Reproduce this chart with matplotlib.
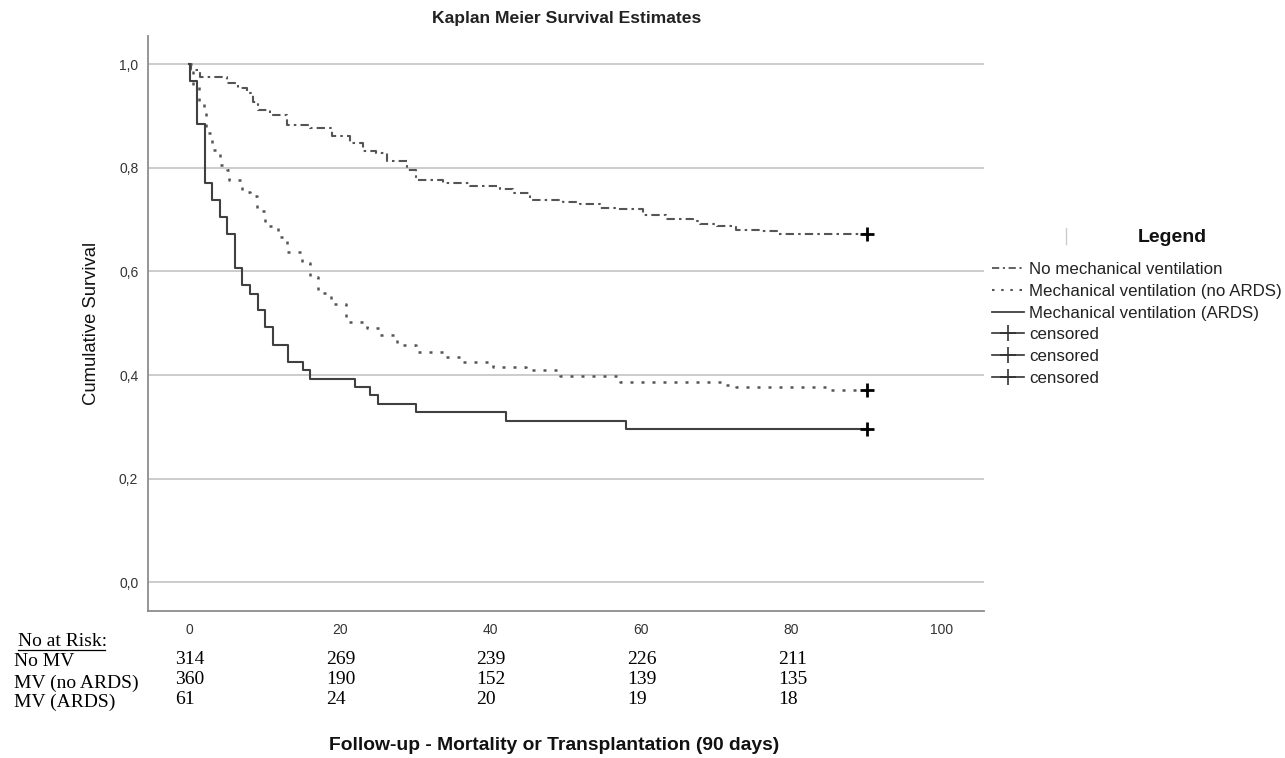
import numpy as np
import matplotlib
matplotlib.use("Agg")
import matplotlib.pyplot as plt
from matplotlib.lines import Line2D
from matplotlib.transforms import blended_transform_factory

plt.rcParams['font.family'] = ['Liberation Sans', 'DejaVu Sans']

# Kaplan-Meier curves (days, survival)
t_nomv = [0, 0.3, 1.5, 5.0, 6.5, 7.7, 8.5, 9.2, 10.8, 13.0, 16.1, 19.0, 21.4, 23.1,
          24.9, 26.3, 28.9, 30.2, 33.8, 37.3, 41.3, 43.0, 45.3, 49.7, 51.9, 54.6,
          57.0, 60.3, 63.4, 67.0, 67.9, 70.1, 72.7, 75.8, 78.1, 90]
s_nomv = [1.0, 0.988, 0.975, 0.964, 0.954, 0.944, 0.928, 0.912, 0.903, 0.883, 0.877,
          0.862, 0.848, 0.832, 0.828, 0.813, 0.796, 0.777, 0.770, 0.765, 0.759, 0.751,
          0.738, 0.735, 0.730, 0.722, 0.720, 0.709, 0.701, 0.698, 0.691, 0.687, 0.680,
          0.678, 0.672, 0.672]

t_mv = [0, 0.5, 1.3, 2.0, 2.3, 3.0, 4.1, 5.1, 5.3, 7.0, 8.1, 9.0, 10.1, 11.8, 13.0,
        15.0, 16.1, 17.1, 18.9, 20.9, 23.6, 25.4, 27.6, 30.2, 33.8, 36.4, 40.4, 44.8,
        49.3, 57.2, 70.9, 72.7, 84.7, 90]
s_mv = [1.0, 0.96, 0.928, 0.912, 0.868, 0.835, 0.806, 0.796, 0.777, 0.754, 0.745,
        0.716, 0.687, 0.667, 0.638, 0.616, 0.590, 0.558, 0.538, 0.503, 0.491, 0.477,
        0.458, 0.445, 0.435, 0.426, 0.416, 0.410, 0.398, 0.386, 0.381, 0.377, 0.371,
        0.371]

t_ards = [0, 0.1, 1.1, 2.1, 3.1, 4.1, 5.1, 6.1, 7.1, 8.1, 9.1, 10.1, 11.1, 13.1, 15.1,
          16.1, 22.0, 24.0, 25.1, 30.1, 42.1, 58.1, 90]
s_ards = [1.0, 0.967, 0.885, 0.770, 0.738, 0.705, 0.672, 0.607, 0.574, 0.557, 0.525,
          0.492, 0.459, 0.426, 0.410, 0.393, 0.377, 0.361, 0.344, 0.328, 0.311, 0.295,
          0.295]

labels = ["No mechanical ventilation", "Mechanical ventilation (no ARDS)",
          "Mechanical ventilation (ARDS)"]

# number at risk table
risk_days = [0, 20, 40, 60, 80]
risk_groups = ["No MV", "MV (no ARDS)", "MV (ARDS)"]
risk_nomv = [314, 269, 239, 226, 211]
risk_mv = [360, 190, 152, 139, 135]
risk_ards = [61, 24, 20, 19, 18]

W, H = 1285, 758
fig = plt.figure(figsize=(W / 100, H / 100), dpi=100)
ax = fig.add_axes([148 / W, 1 - 611 / H, (984 - 148) / W, (611 - 36) / H])

line_col = '#555555'
ax.plot(t_nomv, s_nomv, drawstyle='steps-post', color=line_col, lw=1.5,
        linestyle=(0, (4, 2, 1.2, 2)))
ax.plot(t_mv, s_mv, drawstyle='steps-post', color=line_col, lw=1.8,
        linestyle=(0, (1.2, 3.2)))
ax.plot(t_ards, s_ards, drawstyle='steps-post', color='#404040', lw=1.5)

# censor marks at end of follow-up
for t, s in [(t_nomv, s_nomv), (t_mv, s_mv), (t_ards, s_ards)]:
    ax.plot(t[-1], s[-1], marker='+', color='black', markersize=10, mew=2)

ax.set_xlim(-5.45, 105.6)
ax.set_ylim(-0.0554, 1.0546)
ax.set_yticks([0, 0.2, 0.4, 0.6, 0.8, 1.0])
ax.set_yticklabels(['0,0', '0,2', '0,4', '0,6', '0,8', '1,0'])
ax.set_xticks([0, 20, 40, 60, 80, 100])
ax.tick_params(length=0, labelsize=10, labelcolor='#333333')
ax.tick_params(axis='x', pad=9)
ax.tick_params(axis='y', pad=7)
ax.grid(axis='y', color='#c8c8c8', lw=1.3)
ax.set_axisbelow(True)
for side in ['top', 'right']:
    ax.spines[side].set_visible(False)
for side in ['left', 'bottom']:
    ax.spines[side].set_color('#8c8c8c')
    ax.spines[side].set_linewidth(1.3)

fig.text(567 / W, 1 - 18 / H, "Kaplan Meier Survival Estimates", ha='center',
         va='center', fontsize=12.6, fontweight='bold', color='#222222')
fig.text(92 / W, 1 - 323 / H, "Cumulative Survival", rotation=90, ha='center',
         va='center', fontsize=13.3, color='#111111')
fig.text(554 / W, 1 - 745 / H, "Follow-up - Mortality or Transplantation (90 days)",
         ha='center', va='center', fontsize=13.9, fontweight='bold', color='#111111')

# risk table
serif = ['Liberation Serif', 'DejaVu Serif']
fig.text(18 / W, 1 - 641 / H, "No at Risk:", ha='left', va='center', fontsize=14,
         family=serif)
fig.add_artist(Line2D([18 / W, 105 / W], [1 - 650 / H, 1 - 650 / H], color='black', lw=0.9))
trans = blended_transform_factory(ax.transData, fig.transFigure)
row_y = [662, 683, 702]
for g, vals, yy in zip(risk_groups, [risk_nomv, risk_mv, risk_ards], row_y):
    fig.text(14 / W, 1 - yy / H, g, ha='left', va='center', fontsize=14, family=serif)
    for d, v in zip(risk_days, vals):
        ax.text(d - 1.8, 1 - (yy - 3) / H, str(v), transform=trans, ha='left',
                va='center', fontsize=14, family=serif, clip_on=False)

# legend
handles = [
    Line2D([0], [0], color=line_col, lw=1.3, linestyle=(0, (4, 2, 1.2, 2))),
    Line2D([0], [0], color=line_col, lw=1.5, linestyle=(0, (1.2, 3.2))),
    Line2D([0], [0], color='#404040', lw=1.3),
]
cens = [Line2D([0], [0], color='#333333', lw=1.2, marker='+', markersize=12, mew=1.2)
        for _ in range(3)]
leg = fig.legend(handles + cens, labels + ["censored"] * 3, loc='upper left',
                 bbox_to_anchor=(992 / W, 1 - 262 / H), frameon=False, fontsize=12.2,
                 handlelength=1.9, handletextpad=0.3, labelspacing=0.4, borderpad=0,
                 borderaxespad=0)
for txt in leg.get_texts():
    txt.set_color('#222222')
fig.text(1172 / W, 1 - 238 / H, "Legend", ha='center', va='center', fontsize=14,
         fontweight='bold', color='#111111')
fig.add_artist(Line2D([1066 / W, 1066 / W], [1 - 228 / H, 1 - 244 / H], color='#cccccc', lw=1))

fig.savefig("out.png", dpi=100)
